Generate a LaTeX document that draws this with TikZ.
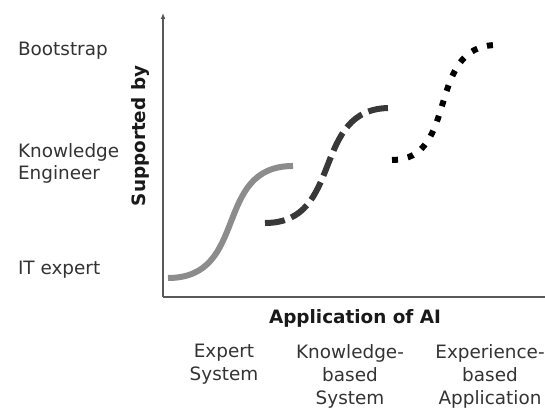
\documentclass[tikz,border=0pt]{standalone}
\usepackage{fontspec}
\setmainfont{DejaVu Sans}
\usetikzlibrary{arrows.meta}

\begin{document}
\begin{tikzpicture}[x = 0.5pt, y = 0.5pt]
\useasboundingbox (0,0) rectangle (545,416);
\coordinate (1) at (163,119);
\coordinate (2) at (163,403);
\coordinate (3) at (545,119);
\draw[draw = black!65, line width = 1pt, -{Latex[length = 3pt, width = 2.5pt]}] (1) -- (2);
\draw[draw = black!65, line width = 1pt] (1) -- (3);
\coordinate (4) at (168,138);
\coordinate (5) at (293,250);
\coordinate (6) at (265,193);
\coordinate (7) at (390,308);
\coordinate (8) at (392,256);
\coordinate (9) at (497,371);
\draw[draw = black!45, line width = 3pt] (4) .. controls (250,138) and (212,250) .. (5);
\draw[draw = black!78, line width = 3pt, dash pattern = on 10pt off 3.5pt] (6) .. controls (345,193) and (310,308) .. (7);
\draw[draw = black, line width = 3pt, dash pattern = on 3pt off 5pt] (8) .. controls (460,256) and (425,371) .. (9);
\node[anchor = west, text = black!80, font = \fontsize{9.2}{11}\selectfont] (10) at (11,365) {Bootstrap};
\node[anchor = west, align = left, text = black!80, font = \fontsize{9.2}{11}\selectfont] (11) at (11,253) {Knowledge\\Engineer};
\node[anchor = west, text = black!80, font = \fontsize{9.2}{11}\selectfont] (12) at (11,146) {IT expert};
\node[rotate = 90, text = black!90, font = \fontsize{9.2}{11}\selectfont\bfseries] (13) at (140,280) {Supported by};
\node[text = black!90, font = \fontsize{9.2}{11}\selectfont\bfseries] (14) at (355,98) {Application of AI};
\node[align = center, text = black!80, font = \fontsize{9.2}{11.5}\selectfont] (15) at (224,52) {Expert\\System};
\node[align = center, text = black!80, font = \fontsize{9.2}{11.5}\selectfont] (16) at (350,40) {Knowledge-\\based\\System};
\node[align = center, text = black!80, font = \fontsize{9.2}{11.5}\selectfont] (17) at (490,40) {Experience-\\based\\Application};
\end{tikzpicture}
\end{document}
